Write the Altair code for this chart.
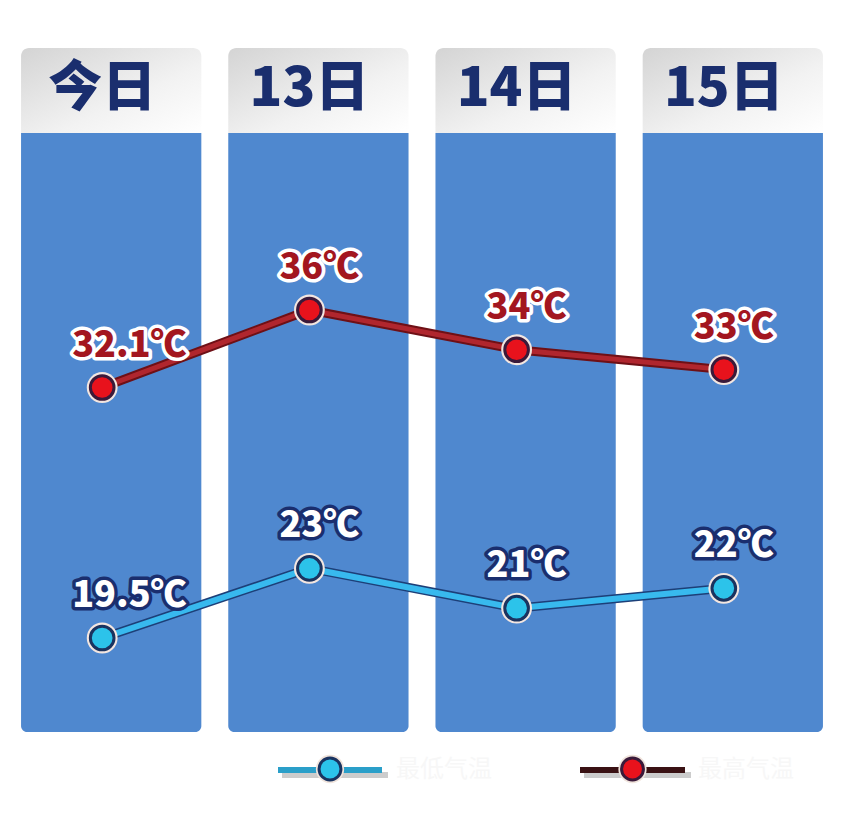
import altair as alt
import pandas as pd

days = ["今日", "13日", "14日", "15日"]
high = [32.1, 36, 34, 33]
low = [19.5, 23, 21, 22]
series_names = ["最低气温", "最高气温"]

FONT = "Noto Sans CJK SC"

cols = pd.DataFrame({"day": days})
df_high = pd.DataFrame({"day": days, "t": high, "label": [f"{v:g}℃" for v in high]})
df_low = pd.DataFrame({"day": days, "t": low, "label": [f"{v:g}℃" for v in low]})
leg_low = pd.DataFrame({"series": [series_names[0]]})
leg_high = pd.DataFrame({"series": [series_names[1]]})

xs = alt.X("day:N", sort=days, axis=None,
           scale=alt.Scale(paddingInner=0.13, paddingOuter=0.063))
ys = alt.Y("t:Q", axis=None,
           scale=alt.Scale(domain=[10.95, 51.19], nice=False, zero=False))

OFF = -9

header = alt.Chart(cols).mark_rect(
    cornerRadiusTopLeft=8, cornerRadiusTopRight=8,
    color=alt.Gradient(gradient="linear",
                       stops=[alt.GradientStop(color="#d4d4d4", offset=0),
                              alt.GradientStop(color="#f2f2f2", offset=0.6),
                              alt.GradientStop(color="#ffffff", offset=1)],
                       x1=0, y1=0, x2=1, y2=1)
).encode(x=xs, y=alt.value(40), y2=alt.value(125))

body = alt.Chart(cols).mark_rect(
    color="#4f88cf", cornerRadiusBottomLeft=6, cornerRadiusBottomRight=6
).encode(x=xs, y=alt.value(125), y2=alt.value(724))

head_text = alt.Chart(cols).mark_text(
    font=FONT, fontSize=54, fontWeight=900, color="#1a2e6e",
    baseline="middle", xOffset=OFF
).encode(x=xs, y=alt.value(82), text="day:N")


def series_layers(df, line_out, line_in, out_w, in_w, pt_fill, pt_stroke, txt_fill, txt_stroke):
    base = alt.Chart(df).encode(x=xs, y=ys)
    l1 = base.mark_line(color=line_out, strokeWidth=out_w, xOffset=OFF, strokeCap="round")
    l2 = base.mark_line(color=line_in, strokeWidth=in_w, xOffset=OFF, strokeCap="round")
    halo = base.mark_point(filled=True, shape="circle", size=950, color="#f3e6e0",
                           opacity=1, xOffset=OFF)
    pt = base.mark_point(filled=True, shape="circle", size=560, fill=pt_fill,
                         stroke=pt_stroke, strokeWidth=3, opacity=1, xOffset=OFF)
    t1 = base.mark_text(font=FONT, fontSize=36, fontWeight=900, align="left",
                        baseline="middle", dx=-30, dy=-42, xOffset=OFF,
                        fill=txt_stroke, stroke=txt_stroke, strokeWidth=7,
                        strokeJoin="round").encode(text="label:N")
    t2 = base.mark_text(font=FONT, fontSize=36, fontWeight=900, align="left",
                        baseline="middle", dx=-30, dy=-42, xOffset=OFF,
                        fill=txt_fill).encode(text="label:N")
    return [l1, l2, halo, pt, t1, t2]


high_layers = series_layers(df_high, "#6e1016", "#b0262e", 9, 5,
                            "#e8121c", "#3a1a3a", "#a3161f", "#ffffff")
low_layers = series_layers(df_low, "#1d3f78", "#38b9ee", 9, 6,
                           "#2cc3ea", "#1a3360", "#ffffff", "#1a2e6e")


def legend_item(df, x1, x2, line_col, pt_fill, pt_stroke, tx):
    b = alt.Chart(df)
    sh = b.mark_rule(color="#9a9a9a", strokeWidth=6, opacity=0.5).encode(
        x=alt.value(x1 + 4), x2=alt.value(x2 + 6), y=alt.value(767))
    r = b.mark_rule(color=line_col, strokeWidth=6).encode(
        x=alt.value(x1), x2=alt.value(x2), y=alt.value(762))
    halo = b.mark_point(filled=True, shape="circle", size=800, color="#f0e4dc",
                        opacity=1).encode(x=alt.value((x1 + x2) / 2), y=alt.value(761))
    p = b.mark_point(filled=True, shape="circle", size=480, fill=pt_fill,
                     stroke=pt_stroke, strokeWidth=3, opacity=1).encode(
        x=alt.value((x1 + x2) / 2), y=alt.value(761))
    t = b.mark_text(font=FONT, fontSize=24, align="left", baseline="middle",
                    color="#f7f7f7").encode(x=alt.value(tx), y=alt.value(762),
                                           text="series:N")
    return [sh, r, halo, p, t]


legend = (legend_item(leg_low, 270, 374, "#2a9fc9", "#2cc3ea", "#1a3360", 388)
          + legend_item(leg_high, 572, 677, "#3a1214", "#e8121c", "#3a1a3a", 690))

chart = alt.layer(
    header, body, head_text, *high_layers, *low_layers, *legend
).properties(
    width=828, height=800, padding=0,
    autosize=alt.AutoSizeParams(type="none"),
    background="#ffffff"
).configure_view(stroke=None)

chart.save("out.html", embed_options={"renderer": "svg", "actions": False})
